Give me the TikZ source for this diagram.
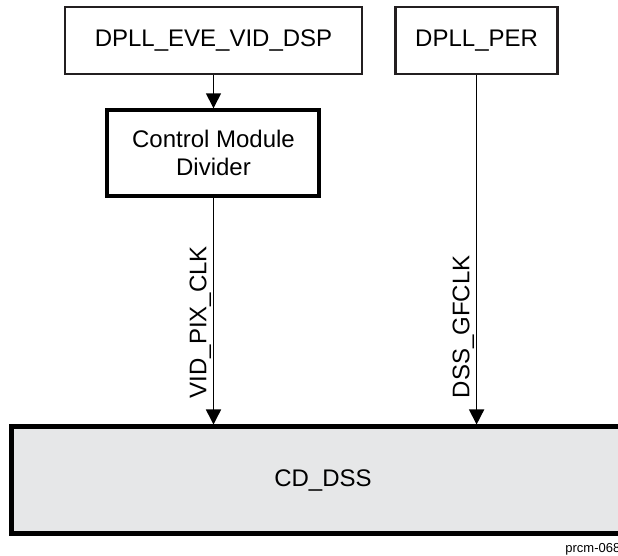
\documentclass[tikz,border=0pt]{standalone}
\usepackage{fontspec}
\setmainfont{Liberation Sans}
\usepackage{xcolor}
\usepackage{tikz}
\usetikzlibrary{positioning, arrows.meta}
\definecolor{dssGray}{RGB}{230, 231, 232}
\definecolor{boxLine}{RGB}{35, 31, 32}

\begin{document}
\begin{tikzpicture}[
                x=0.5pt, y=-0.5pt,
                node distance=16.5pt,
                font=\fontsize{12}{14}\selectfont,
                block/.style={rectangle, draw=boxLine, line width=1.3pt, minimum height=33.5pt, align=center},
                divider/.style={rectangle, draw=black, line width=2pt, minimum width=106pt, minimum height=43pt, align=center},
                clkdomain/.style={rectangle, draw=black, line width=2.5pt, fill=dssGray, minimum width=311pt, minimum height=53.5pt},
                sig/.style={rotate=90, anchor=south west, inner sep=1pt},
                arrow/.style={-{Triangle[width=7.5pt, length=7.5pt]}, line width=0.75pt}
            ]
                \useasboundingbox (0,0) rectangle (618,556);
                \clip (0,0) rectangle (618,556);

                % --- SOURCES (TOP) ---
                \node[block, minimum width=148.5pt] (eve) at (213.5,40.5) {DPLL\_EVE\_VID\_DSP};
                \node[block, minimum width=81pt, right=15.5pt of eve] (per) {DPLL\_PER};
                \node[divider, below=of eve] (cmd) {Control Module\\Divider};

                % --- CLOCK DOMAIN (BOTTOM) ---
                \node[clkdomain] (dss) at (323,480.5) {CD\_DSS};
                \node[anchor=base west, inner sep=0pt, font=\fontsize{6.5}{8}\selectfont] (figid) at (565,553) {prcm-068};

                % Arrows
                \draw[arrow] (eve) -- (cmd);
                \draw[arrow] (cmd.south) -- (cmd.south |- dss.north);
                \draw[arrow] (per.south) -- (per.south |- dss.north);

                % Clock names
                \coordinate (vid_lbl) at ([yshift=12pt]cmd.south |- dss.north);
                \coordinate (gf_lbl) at ([yshift=12pt]per.south |- dss.north);
                \node[sig] (vid_pix) at (vid_lbl) {VID\_PIX\_CLK};
                \node[sig] (dss_gf) at (gf_lbl) {DSS\_GFCLK};

\end{tikzpicture}
\end{document}
